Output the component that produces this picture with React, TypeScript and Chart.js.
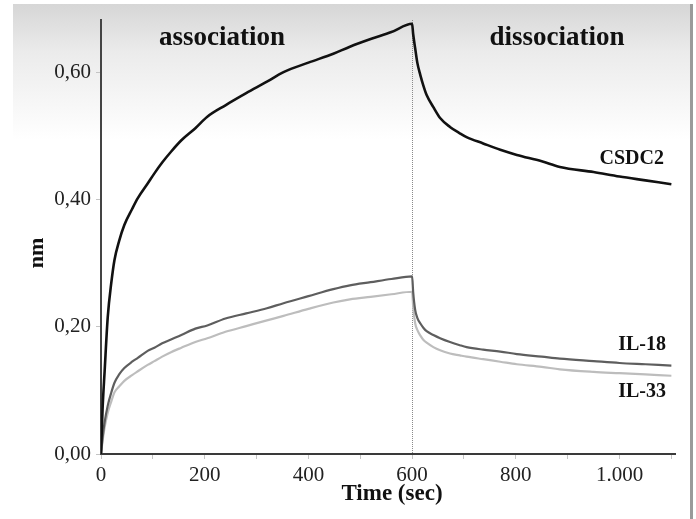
import React, { useEffect, useRef } from "react";
import { Chart, registerables } from "chart.js";

Chart.register(...registerables);

const assocTimes = [0, 3, 7, 13, 20, 26, 35, 45, 60, 71, 90, 103, 118, 135, 155, 182, 205, 240, 280, 320, 352, 400, 448, 480, 520, 560, 600];
const dissocTimes = [602, 606, 610, 616, 622, 628, 641, 654, 673, 692, 705, 737, 770, 802, 850, 885, 950, 1000, 1050, 1100];

const csdc2Assoc = [0, 0.07, 0.13, 0.215, 0.27, 0.305, 0.335, 0.36, 0.385, 0.402, 0.425, 0.441, 0.458, 0.475, 0.493, 0.512, 0.53, 0.548, 0.567, 0.585, 0.6, 0.615, 0.629, 0.64, 0.652, 0.663, 0.676];
const csdc2Dissoc = [0.66, 0.637, 0.615, 0.595, 0.578, 0.564, 0.545, 0.528, 0.514, 0.504, 0.498, 0.488, 0.478, 0.47, 0.46, 0.451, 0.443, 0.436, 0.43, 0.424];

const il18Assoc = [0, 0.025, 0.05, 0.076, 0.097, 0.112, 0.125, 0.135, 0.145, 0.151, 0.162, 0.167, 0.174, 0.18, 0.187, 0.197, 0.202, 0.213, 0.221, 0.229, 0.237, 0.248, 0.259, 0.265, 0.27, 0.275, 0.279];
const il18Dissoc = [0.255, 0.226, 0.214, 0.205, 0.198, 0.193, 0.187, 0.182, 0.176, 0.171, 0.168, 0.164, 0.161, 0.157, 0.153, 0.15, 0.146, 0.143, 0.141, 0.139];

const il33Assoc = [0, 0.02, 0.042, 0.065, 0.083, 0.097, 0.106, 0.115, 0.124, 0.13, 0.14, 0.146, 0.153, 0.16, 0.167, 0.176, 0.182, 0.192, 0.201, 0.21, 0.217, 0.228, 0.238, 0.243, 0.247, 0.251, 0.255];
const il33Dissoc = [0.232, 0.205, 0.195, 0.186, 0.179, 0.175, 0.168, 0.163, 0.158, 0.155, 0.153, 0.149, 0.145, 0.141, 0.137, 0.133, 0.129, 0.127, 0.125, 0.123];

const seriesNames = ["CSDC2", "IL-18", "IL-33"];
const seriesColors = ["#111111", "#5e5e5e", "#bdbdbd"];
const phaseLabels = ["association", "dissociation"];
const xLabelValues = [0, 200, 400, 600, 800, 1000];
const switchTime = 600;

const allTimes = [...assocTimes, ...dissocTimes];
const toPoints = (vals: number[]) => vals.map((v, i) => ({ x: allTimes[i], y: v }));

const SERIF = "'Liberation Serif', 'Times New Roman', serif";

const fmtX = (v: number) => (v === 1000 ? "1.000" : String(v));

const decorPlugin = {
  id: "decor",
  beforeDraw(chart: any) {
    const ctx = chart.ctx;
    ctx.save();
    ctx.fillStyle = "#ffffff";
    ctx.fillRect(0, 0, chart.width, chart.height);
    const g = ctx.createLinearGradient(0, 4, 0, 140);
    g.addColorStop(0, "#d6d6d6");
    g.addColorStop(0.35, "#ebebeb");
    g.addColorStop(1, "#ffffff");
    ctx.fillStyle = g;
    ctx.fillRect(13, 4, 678, 136);
    ctx.fillStyle = "#9a9a9a";
    ctx.fillRect(690, 4, 3, chart.height - 4);
    ctx.restore();
  },
  beforeDatasetsDraw(chart: any) {
    const ctx = chart.ctx;
    const xs = chart.scales.x;
    const area = chart.chartArea;
    const px = Math.round(xs.getPixelForValue(switchTime)) + 0.5;
    ctx.save();
    ctx.strokeStyle = "#8a8a8a";
    ctx.lineWidth = 1;
    ctx.setLineDash([1, 1]);
    ctx.beginPath();
    ctx.moveTo(px, area.top);
    ctx.lineTo(px, area.bottom);
    ctx.stroke();
    ctx.restore();
  },
  afterDraw(chart: any) {
    const ctx = chart.ctx;
    ctx.save();
    ctx.fillStyle = "#111111";
    ctx.textAlign = "center";
    ctx.textBaseline = "middle";
    ctx.font = `bold 27px ${SERIF}`;
    ctx.fillText(phaseLabels[0], 222, 38);
    ctx.fillText(phaseLabels[1], 557, 38);

    ctx.font = `bold 23px ${SERIF}`;
    ctx.fillText("Time (sec)", 392, 494);

    ctx.save();
    ctx.translate(37, 253);
    ctx.rotate(-Math.PI / 2);
    ctx.font = `bold 22px ${SERIF}`;
    ctx.fillText("nm", 0, 0);
    ctx.restore();

    ctx.font = `bold 20px ${SERIF}`;
    ctx.textAlign = "right";
    ctx.fillText(seriesNames[0], 664, 159);
    ctx.fillText(seriesNames[1], 666, 345);
    ctx.fillText(seriesNames[2], 666, 392);
    ctx.restore();
  },
};

export default function App() {
  const ref = useRef<HTMLCanvasElement | null>(null);
  useEffect(() => {
    if (!ref.current) return;
    const common = { pointRadius: 0, cubicInterpolationMode: "monotone" as const };
    const chart = new Chart(ref.current, {
      type: "line",
      data: {
        datasets: [
          { label: seriesNames[0], data: toPoints([...csdc2Assoc, ...csdc2Dissoc]), borderColor: seriesColors[0], borderWidth: 2.6, ...common },
          { label: seriesNames[1], data: toPoints([...il18Assoc, ...il18Dissoc]), borderColor: seriesColors[1], borderWidth: 2.2, ...common },
          { label: seriesNames[2], data: toPoints([...il33Assoc, ...il33Dissoc]), borderColor: seriesColors[2], borderWidth: 2.2, ...common },
        ],
      },
      options: {
        animation: false,
        responsive: false,
        maintainAspectRatio: false,
        layout: { padding: { left: 0, top: 20, right: 21, bottom: 0 } },
        plugins: { legend: { display: false }, tooltip: { enabled: false } },
        scales: {
          x: {
            type: "linear",
            min: 0,
            max: 1107,
            afterFit: (s: any) => { s.height = 65; },
            afterBuildTicks: (s: any) => {
              const out: any[] = [];
              for (let v = 0; v <= 1100; v += 100) out.push({ value: v });
              s.ticks = out;
            },
            ticks: {
              stepSize: 100,
              includeBounds: false,
              autoSkip: false,
              maxRotation: 0,
              minRotation: 0,
              padding: 4,
              color: "#222",
              font: { family: SERIF, size: 21 },
              callback: (v: any) => (xLabelValues.includes(Number(v)) ? fmtX(Number(v)) : ""),
            },
            grid: { display: true, drawOnChartArea: false, tickLength: 5, color: "#c4c4c4" },
            border: { display: true, color: "#3a3a3a", width: 2 },
          },
          y: {
            type: "linear",
            min: 0,
            max: 0.682,
            afterFit: (s: any) => { s.width = 101; },
            afterBuildTicks: (s: any) => {
              s.ticks = [0, 0.2, 0.4, 0.6].map((v) => ({ value: v }));
            },
            ticks: {
              stepSize: 0.2,
              padding: 5,
              color: "#222",
              font: { family: SERIF, size: 21 },
              callback: (v: any) => Number(v).toFixed(2).replace(".", ","),
            },
            grid: { display: true, drawOnChartArea: false, tickLength: 5, color: "#c4c4c4" },
            border: { display: true, color: "#444444", width: 2 },
          },
        },
      },
      plugins: [decorPlugin],
    });
    return () => chart.destroy();
  }, []);
  return (
    <div style={{ position: "fixed", left: 0, top: 0, width: 696, height: 519 }}>
      <canvas ref={ref} width={696} height={519} style={{ width: 696, height: 519 }} />
    </div>
  );
}
